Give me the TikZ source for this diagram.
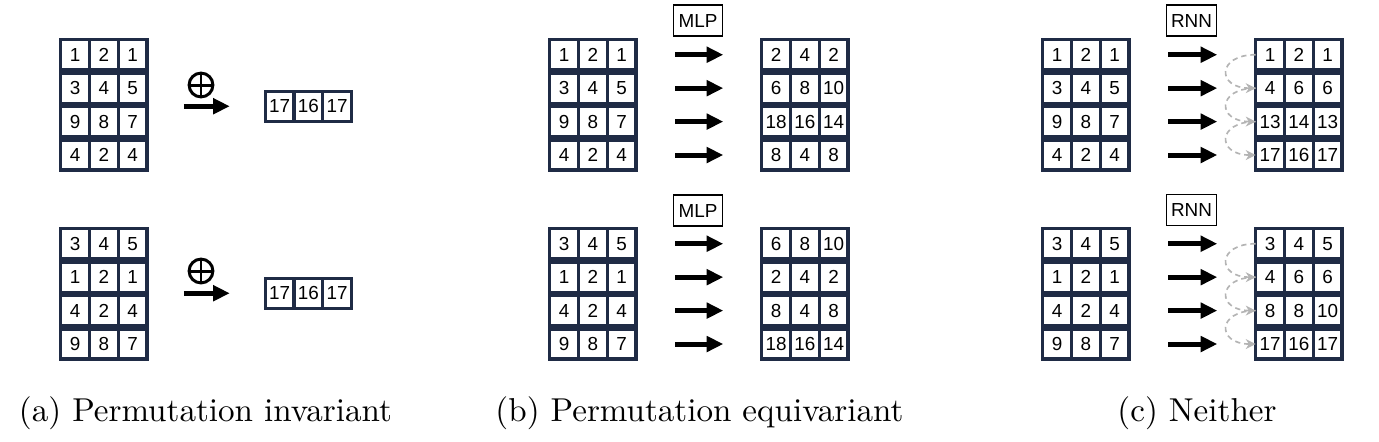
\documentclass[tikz,border=0pt]{standalone}
\usepackage{amsmath}
\usepackage{amssymb}
\usepackage{fontspec}
\usepackage{tikz}
\usepackage{xcolor}
\usetikzlibrary{matrix,arrows.meta,positioning}
\newfontfamily\cellfont{Liberation Sans}
\definecolor{gridnavy}{HTML}{1F2B45}
\definecolor{flowgrey}{HTML}{B4B4B4}
\tikzset{
    grid-cell/.style = {draw=gridnavy, line width=1pt, fill=white, rectangle, minimum width=8.7pt, minimum height=9.1pt, inner sep=0pt, outer sep=0pt, anchor=center, font=\cellfont\fontsize{5.7pt}{6.8pt}\selectfont},
    vec-grid/.style = {matrix of nodes, nodes={grid-cell}, row sep=0pt, column sep=-1pt, inner sep=0pt, outer sep=0pt, anchor=north west},
    map-arrow/.style = {-{Triangle[length=5pt, width=4.6pt]}, line width=1.5pt, shorten <=11.8pt, shorten >=11.6pt},
    sum-arrow/.style = {-{Triangle[length=5pt, width=4.6pt]}, line width=1.5pt, shorten <=10.6pt, shorten >=10.2pt},
    sum-sign/.style = {circle, draw, line width=0.9pt, minimum size=7.2pt, inner sep=0pt,
        path picture={\draw[line width=0.9pt] (path picture bounding box.north) -- (path picture bounding box.south) (path picture bounding box.west) -- (path picture bounding box.east);}},
    net-box/.style = {draw, thin, rectangle, minimum width=15pt, minimum height=9.4pt, inner sep=0pt, font=\cellfont\fontsize{5.7pt}{6.8pt}\selectfont},
    rnn-flow/.style = {-{Stealth[length=3pt, width=3pt]}, draw=flowgrey, dash pattern=on 1.6pt off 1.2pt, line width=0.5pt},
    sub-caption/.style = {anchor=base, inner sep=0pt, font=\fontsize{10pt}{12pt}\selectfont},
}

\begin{document}
\begin{tikzpicture}[x=0.3021pt, y=-0.3021pt]
\useasboundingbox (0,0) rectangle (1379,441);

\matrix[vec-grid] (inA1) at (59,38) {1 & 2 & 1 \\ 3 & 4 & 5 \\ 9 & 8 & 7 \\ 4 & 2 & 4 \\};
\matrix[vec-grid] (outA1) at (263.5,89.5) {17 & 16 & 17 \\};
\node[sum-sign] (sumA1) at (201,85) {};
\draw[sum-arrow] (outA1.west -| inA1.east) -- (outA1.west);

\matrix[vec-grid] (inA2) at (59,227) {3 & 4 & 5 \\ 1 & 2 & 1 \\ 4 & 2 & 4 \\ 9 & 8 & 7 \\};
\matrix[vec-grid] (outA2) at (263.5,276.5) {17 & 16 & 17 \\};
\node[sum-sign] (sumA2) at (201,271) {};
\draw[sum-arrow] (outA2.west -| inA2.east) -- (outA2.west);

\matrix[vec-grid] (inB1) at (548,38) {1 & 2 & 1 \\ 3 & 4 & 5 \\ 9 & 8 & 7 \\ 4 & 2 & 4 \\};
\matrix[vec-grid] (outB1) at (760,38) {2 & 4 & 2 \\ 6 & 8 & 10 \\ 18 & 16 & 14 \\ 8 & 4 & 8 \\};
\node[net-box] (mlpB1) at (698,20.5) {MLP};

\matrix[vec-grid] (inB2) at (548,227) {3 & 4 & 5 \\ 1 & 2 & 1 \\ 4 & 2 & 4 \\ 9 & 8 & 7 \\};
\matrix[vec-grid] (outB2) at (760,227) {6 & 8 & 10 \\ 2 & 4 & 2 \\ 8 & 4 & 8 \\ 18 & 16 & 14 \\};
\node[net-box] (mlpB2) at (698,210.5) {MLP};

\matrix[vec-grid] (inC1) at (1041,38) {1 & 2 & 1 \\ 3 & 4 & 5 \\ 9 & 8 & 7 \\ 4 & 2 & 4 \\};
\matrix[vec-grid] (outC1) at (1254,38) {1 & 2 & 1 \\ 4 & 6 & 6 \\ 13 & 14 & 13 \\ 17 & 16 & 17 \\};
\node[net-box] (rnnC1) at (1191.5,20.5) {RNN};

\matrix[vec-grid] (inC2) at (1041,227) {3 & 4 & 5 \\ 1 & 2 & 1 \\ 4 & 2 & 4 \\ 9 & 8 & 7 \\};
\matrix[vec-grid] (outC2) at (1254,227) {3 & 4 & 5 \\ 4 & 6 & 6 \\ 8 & 8 & 10 \\ 17 & 16 & 17 \\};
\node[net-box] (rnnC2) at (1191.5,210) {RNN};

\foreach \g in {B1,B2,C1,C2} {
    \foreach \r in {1,...,4} {
        \draw[map-arrow] (in\g-\r-3.east) -- (out\g-\r-1.west);
    }
}
\foreach \g in {C1,C2} {
    \foreach \r/\s in {1/2,2/3,3/4} {
        \draw[rnn-flow] (out\g-\r-1.west) to[out=180, in=180, looseness=3] (out\g-\s-1.west);
    }
}

\node[sub-caption] (capA) at (205.5,421) {(a) Permutation invariant};
\node[sub-caption] (capB) at (699.5,421) {(b) Permutation equivariant};
\node[sub-caption] (capC) at (1197,421) {(c) Neither};
\end{tikzpicture}
\end{document}
